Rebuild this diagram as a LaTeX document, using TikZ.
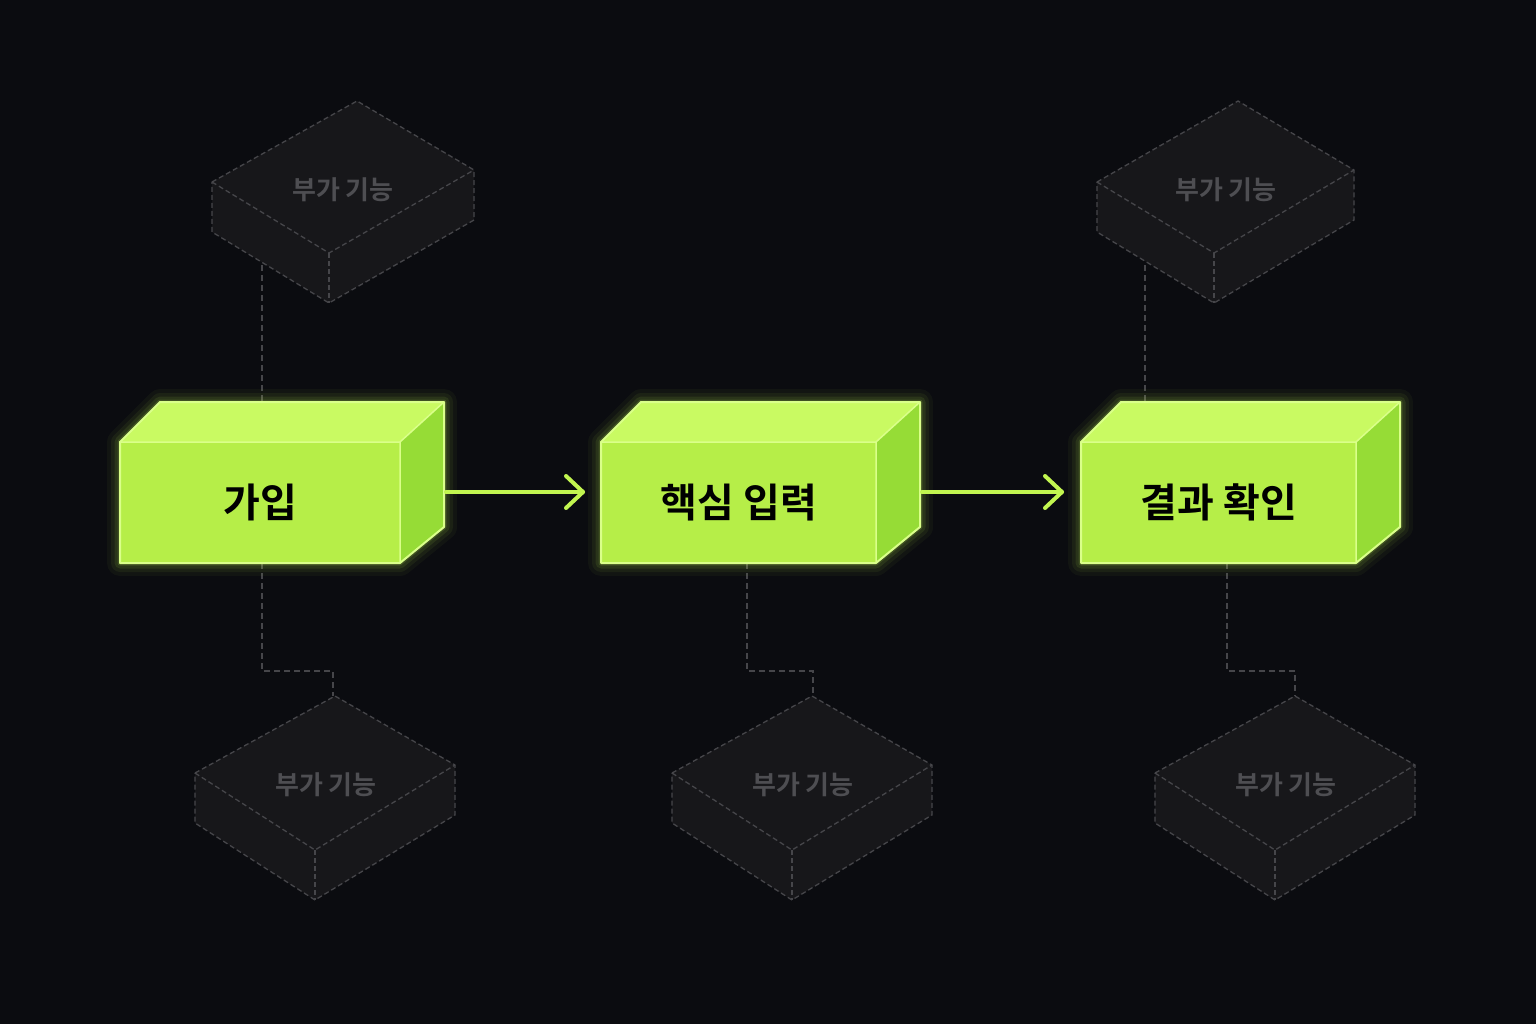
\documentclass[tikz,border=0pt]{standalone}
\usepackage{fontspec}
\newfontfamily\kr{Noto Sans CJK KR Bold}
\begin{document}
\begin{tikzpicture}[x=1pt,y=-1pt,
  ghost/.style={draw=gline,dashed,line width=1.3pt,dash pattern=on 5pt off 3pt,fill=gfill},
  gtext/.style={text=gtxt,font=\kr\fontsize{26}{30}\selectfont},
  link/.style={draw=gline,line width=1.5pt,dash pattern=on 6pt off 4pt},
  flow/.style={draw=lime,line width=4pt,line cap=round,line join=round},
  btext/.style={text=black,font=\kr\fontsize{40}{46}\selectfont}]
\definecolor{bg}{HTML}{0B0C10}
\definecolor{gline}{HTML}{46464A}
\definecolor{gfill}{HTML}{17171A}
\definecolor{gtxt}{HTML}{4E4E52}
\definecolor{lime}{HTML}{C2F550}
\definecolor{front}{HTML}{B6EE48}
\definecolor{topc}{HTML}{C9FA62}
\definecolor{side}{HTML}{96DC36}
\definecolor{edge}{HTML}{DAFF8A}
\fill[bg] (0,0) rectangle (1536,1024);
\useasboundingbox (0,0) rectangle (1536,1024);
% connectors
\coordinate (u1) at (262,265); \coordinate (u1b) at (262,402);
\coordinate (u2) at (1145,265); \coordinate (u2b) at (1145,402);
\draw[link] (u1) -- (u1b); \draw[link] (u2) -- (u2b);
\draw[link] (262,563) -- (262,671) -- (333,671) -- (333,696);
\draw[link] (747,563) -- (747,671) -- (813,671) -- (813,696);
\draw[link] (1227,563) -- (1227,671) -- (1295,671) -- (1295,696);
% ghost boxes
\newcommand\ghostbox[5]{% left top right bottom(x,y) depth text-pos
  \draw[ghost] #1 -- #2 -- #3 -- ++(0,50) -- ($#4+(0,50)$) -- ($#1+(0,50)$) -- cycle;
  \draw[ghost] #1 -- #4 -- #3; \draw[ghost] #4 -- ++(0,50);
}
\newcommand\gb[9]{%
  \draw[ghost] (#1,#2) -- (#3,#4) -- (#5,#6) -- (#5,#6+50) -- (#7,#8+50) -- (#1,#2+50) -- cycle;
  \draw[ghost,fill=none] (#1,#2) -- (#7,#8) -- (#5,#6);
  \draw[ghost,fill=none] (#7,#8) -- (#7,#8+50);
  \node[gtext] at (#9) {부가 기능};}
\gb{212}{182}{357}{101}{474}{170}{329}{253}{343,190}
\gb{1097}{182}{1238}{101}{1354}{170}{1214}{253}{1226,190}
\gb{195}{773}{335}{696}{455}{765}{315}{850}{326,785}
\gb{672}{773}{812}{696}{932}{765}{792}{850}{803,785}
\gb{1155}{773}{1295}{696}{1415}{765}{1275}{850}{1286,785}
% green boxes
\newcommand\bbox[4]{% x0 x1 name text
  \foreach \w/\o in {26/0.04,18/0.06,11/0.09,5/0.14}{
    \draw[lime,opacity=\o,line width=\w pt,line join=round] (#1,442) -- (#1+40,402) -- (#2+44,402) -- (#2+44,527) -- (#2,563) -- (#1,563) -- cycle;}
  \fill[topc] (#1,442) -- (#1+40,402) -- (#2+44,402) -- (#2,442) -- cycle;
  \fill[side] (#2,442) -- (#2+44,402) -- (#2+44,527) -- (#2,563) -- cycle;
  \node[fill=front,minimum width=#2-#1,minimum height=121,inner sep=0,anchor=north west] (#3) at (#1,442) {};
  \draw[edge,line width=2pt,line join=round] (#1,442) -- (#1+40,402) -- (#2+44,402) -- (#2+44,527) -- (#2,563) -- (#1,563) -- cycle;
  \draw[edge,line width=1.5pt] (#1,442) -- (#2,442) -- (#2+44,402) (#2,442) -- (#2,563);
  \node[btext] at (#3) {#4};}
\bbox{120}{400}{a}{가입}
\bbox{601}{876}{b}{핵심 입력}
\bbox{1081}{1356}{c}{결과 확인}
% arrows
\coordinate (a1) at (583,492); \coordinate (c1) at (1062,492);
\draw[flow] (446,492) -- (a1);
\draw[flow] (566,476) -- (a1) -- (566,508);
\draw[flow] (922,492) -- (c1);
\draw[flow] (1045,476) -- (c1) -- (1045,508);
\end{tikzpicture}
\end{document}
